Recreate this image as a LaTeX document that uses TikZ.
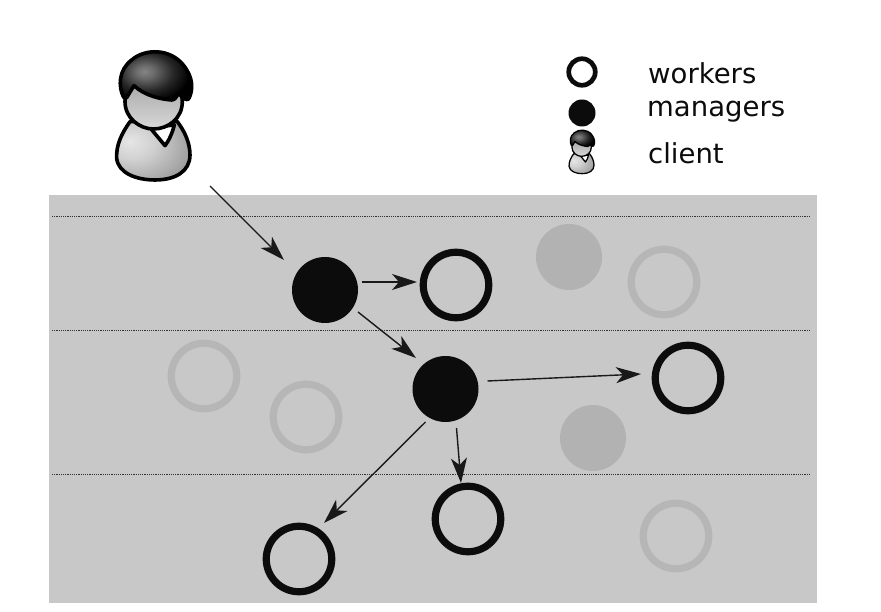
\documentclass[tikz,border=0pt]{standalone}
\usepackage{fontspec}
\setmainfont{DejaVu Sans}
\usetikzlibrary{calc,arrows.meta}
\definecolor{bandgray}{HTML}{C8C8C8}
\definecolor{inkblack}{HTML}{0C0C0C}
\definecolor{fadegray}{HTML}{B6B6B6}
\definecolor{fadedisk}{HTML}{B2B2B2}
\pgfdeclareradialshading{hairshade}{\pgfpoint{-8bp}{3bp}}{%
  color(0bp)=(black!48);color(6bp)=(black!58);color(18bp)=(black!85);color(28bp)=(black);color(100bp)=(black)}
\pgfdeclareradialshading{bodyshade}{\pgfpoint{-16bp}{8bp}}{%
  color(0bp)=(black!10);color(14bp)=(black!18);color(34bp)=(black!36);color(50bp)=(black!50);color(100bp)=(black!55)}
\tikzset{
  ringnode/.style={circle,draw=inkblack,line width=7.2pt,fill=none,minimum size=65.5pt,inner sep=0pt},
  fadering/.style={ringnode,draw=fadegray},
  disknode/.style={circle,fill=inkblack,minimum size=66pt,inner sep=0pt},
  fadedot/.style={disknode,fill=fadedisk},
  band/.style={densely dotted,line width=1.2pt,draw=black!80},
  arr/.style={-{Stealth[length=25pt,width=16pt,inset=7pt]},line width=1.4pt,draw=black!90},
  legendtext/.style={anchor=base west,font=\fontsize{27.5}{30}\selectfont,text=inkblack,inner sep=0pt},
  personink/.style={draw=black,line join=round}
}
\newcommand{\drawperson}[4]{% x, y, scale, line width
  \begin{scope}[shift={(#1,#2)},x=#3pt,y=-#3pt,line width=#4pt]
    \path[personink,shading=bodyshade]
      (120,275) .. controls (95,310) and (78,345) .. (80,385)
      .. controls (85,430) and (140,450) .. (195,450)
      .. controls (255,450) and (300,425) .. (300,375)
      .. controls (300,340) and (285,305) .. (262,275) -- cycle;
    \path[personink,fill=white] (180,293) -- (225,347) .. controls (235,335) and (247,310) .. (253,285) -- cycle;
    \path[personink,top color=black!35,bottom color=black!15]
      (105,215) .. controls (105,265) and (150,297) .. (190,297)
      .. controls (235,297) and (277,265) .. (277,215)
      .. controls (277,170) and (235,150) .. (190,150)
      .. controls (145,150) and (105,170) .. cycle;
    \path[draw=black,line join=round,shading=hairshade]
      (100,200) .. controls (85,170) and (85,120) .. (125,90)
      .. controls (165,55) and (240,55) .. (280,105)
      .. controls (312,145) and (308,180) .. (298,203)
      .. controls (294,213) and (285,208) .. (278,202)
      .. controls (272,197) and (268,192) .. (265,190)
      .. controls (260,200) and (255,210) .. (245,210)
      .. controls (215,208) and (165,198) .. (132,167)
      .. controls (125,178) and (118,190) .. (110,203)
      .. controls (106,208) and (102,205) .. (100,200) -- cycle;
  \end{scope}
}
\begin{document}
\begin{tikzpicture}[x=1pt,y=-1pt]
\useasboundingbox (0,0) rectangle (881,612);
\fill[white] (0,0) rectangle (881,612);
\fill[bandgray] (49,195) rectangle (817,603);
\coordinate (bandAl) at (52,216.5); \coordinate (bandAr) at (810,216.5);
\coordinate (bandBl) at (52,330.5); \coordinate (bandBr) at (810,330.5);
\coordinate (bandCl) at (52,474.5); \coordinate (bandCr) at (810,474.5);
\draw[band] (bandAl) -- (bandAr);
\draw[band] (bandBl) -- (bandBr);
\draw[band] (bandCl) -- (bandCr);
% faded
\node[fadedot] (f1) at (569,257) {};
\node[fadedot] (f2) at (593,438) {};
\node[fadering] (g1) at (664,282) {};
\node[fadering] (g2) at (204,376) {};
\node[fadering] (g3) at (306,417) {};
\node[fadering] (g4) at (676,536) {};
% active
\node[disknode] (m1) at (325,290) {};
\node[disknode] (m2) at (445.5,389) {};
\node[ringnode] (w1) at (456,285) {};
\node[ringnode] (w2) at (688,378) {};
\node[ringnode] (w3) at (468,519) {};
\node[ringnode] (w4) at (299,559) {};
% client
\drawperson{90}{30}{0.3333}{3.6}
\coordinate (client) at (155,116);
% arrows
\draw[arr] ($(client)+(55,70)$) -- ($(m1)+(-41,-30)$);
\draw[arr] ($(m1)+(37,-8)$) -- ($(w1)+(-39,-3)$);
\draw[arr] ($(m1)+(33,22)$) -- ($(m2)+(-29.5,-31)$);
\draw[arr] ($(m2)+(42,-8)$) -- ($(w2)+(-47,-4)$);
\draw[arr] ($(m2)+(11,39)$) -- ($(w3)+(-7,-36)$);
\draw[arr] ($(m2)+(-20,33)$) -- ($(w4)+(25,-36)$);
% legend
\node[circle,draw=inkblack,line width=4.7pt,minimum size=26.5pt,inner sep=0pt] (lw) at (582,72) {};
\node[circle,fill=inkblack,minimum size=27pt,inner sep=0pt] (lm) at (582,113) {};
\drawperson{560}{122.7}{0.1133}{1.25}
\node[legendtext] (tw) at (648,84) {workers};
\node[legendtext] (tm) at (647,117) {managers};
\node[legendtext] (tc) at (648,164) {client};
\end{tikzpicture}
\end{document}
